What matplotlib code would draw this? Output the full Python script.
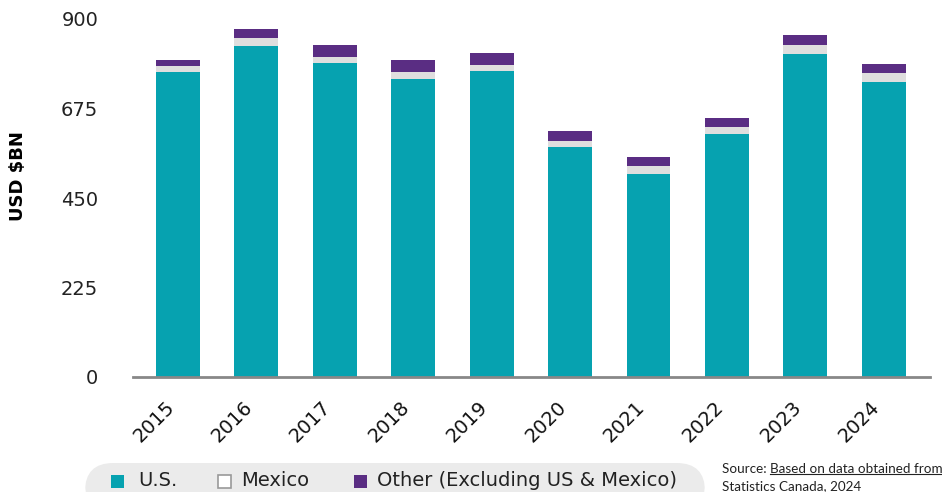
import matplotlib
matplotlib.use("Agg")
import matplotlib.pyplot as plt
from matplotlib.patches import FancyBboxPatch, Rectangle
from matplotlib.lines import Line2D
import numpy as np

years = ["2015", "2016", "2017", "2018", "2019", "2020", "2021", "2022", "2023", "2024"]
us_vals = [767, 832, 790, 750, 770, 579, 511, 612, 812, 742]
mexico_vals = [15, 20, 15, 17, 15, 15, 20, 17, 23, 23]
other_vals = [15, 23, 30, 30, 30, 25, 23, 23, 25, 22]
yticks = [0, 225, 450, 675, 900]

c_us = "#06A2B0"
c_mx = "#DFDEDE"
c_ot = "#5A2D83"

plt.rcParams['font.family'] = ['DejaVu Sans']

W, H = 942, 492
fig = plt.figure(figsize=(W / 100, H / 100), dpi=100)
ax = fig.add_axes([133 / W, 1 - 377 / H, (930 - 133) / W, (377 - 19) / H])

x = np.arange(len(years))
us = np.array(us_vals)
mx = np.array(mexico_vals)
ot = np.array(other_vals)
bw = 0.56
ax.bar(x, us, bw, color=c_us, linewidth=0)
ax.bar(x, mx, bw, bottom=us, color=c_mx, linewidth=0)
ax.bar(x, ot, bw, bottom=us + mx, color=c_ot, linewidth=0)

ax.set_xlim(-0.574, 9.59)
ax.set_ylim(0, 900)
ax.set_yticks(yticks)
ax.set_yticklabels([str(v) for v in yticks], fontsize=14, color="#222222")
ax.tick_params(axis="y", length=0, pad=25)
ax.set_xticks(x)
ax.set_xticklabels(years, rotation=45, ha="right", fontsize=14, color="#111111")
ax.tick_params(axis="x", length=0, pad=15)
for s in ["top", "right", "left"]:
    ax.spines[s].set_visible(False)
ax.spines["bottom"].set_color("#888888")
ax.spines["bottom"].set_linewidth(2)

fig.text(18 / W, 1 - 176 / H, "USD $BN", rotation=90, fontsize=13, fontweight="bold",
         ha="center", va="center")

# legend box
box = FancyBboxPatch((85 / W, -20 / H), (705 - 85) / W, (20 + 492 - 463) / H,
                     boxstyle="round,pad=0,rounding_size=0.03", transform=fig.transFigure,
                     facecolor="#EBEBEB", edgecolor="none", mutation_aspect=W / H)
fig.add_artist(box)

def sq(x0, color, ec="none"):
    fig.add_artist(Rectangle((x0 / W, 1 - 488 / H), 13 / W, 13 / H, transform=fig.transFigure,
                             facecolor=color, edgecolor=ec, linewidth=1.2))

ly = 1 - 481 / H
sq(111, c_us)
fig.text(138 / W, ly, "U.S.", fontsize=14, va="center", ha="left", color="#222222")
sq(218, "white", "#999999")
fig.text(241 / W, ly, "Mexico", fontsize=14, va="center", ha="left", color="#222222")
sq(354, c_ot)
fig.text(377 / W, ly, "Other (Excluding US & Mexico)", fontsize=14, va="center", ha="left",
         color="#222222")

# source
sfont = ["Lato", "DejaVu Sans"]
t1 = fig.text(722 / W, 1 - 469 / H, "Source: ", fontsize=9.7, va="center", ha="left",
              color="#222222", family=sfont)
fig.canvas.draw()
r = fig.canvas.get_renderer()
bb = t1.get_window_extent(r)
t2 = fig.text(bb.x1 / W, 1 - 469 / H, "Based on data obtained from", fontsize=9.7, va="center",
              ha="left", color="#222222", family=sfont)
fig.text(722 / W, 1 - 486 / H, "Statistics Canada, 2024", fontsize=9.7, va="center", ha="left",
         color="#222222", family=sfont)
fig.canvas.draw()
bb2 = t2.get_window_extent(r)
fig.add_artist(Line2D([bb2.x0 / W, bb2.x1 / W], [(bb2.y0 + 1) / H, (bb2.y0 + 1) / H],
                      transform=fig.transFigure, color="#222222", linewidth=0.8))

fig.savefig("out.png", dpi=100)
